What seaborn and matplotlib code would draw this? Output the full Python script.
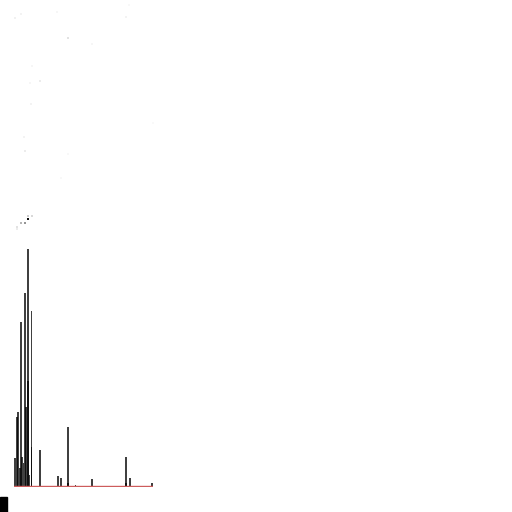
import numpy as np
import matplotlib.pyplot as plt
import seaborn as sns
from matplotlib.patches import Rectangle

# bar left edges / heights (two overlaid series)
a_left = [0, 3.3, 6, 8.7, 11, 13, 14.7, 16.7, 25, 43, 53, 60.5, 77, 111, 115, 137]
a_height = [28, 74, 164, 23, 79, 105, 11, 39, 36, 10, 59, 1, 7, 29, 8, 3]
b_left = [2, 5.3, 7.3, 10, 13, 16.7, 46, 53, 111]
b_height = [69, 18, 29, 193, 237, 175, 8, 3, 3]
bar_w = 1.7

# faint scatter points above the bars
dot_x = [1, 7, 43, 112, 115, 54, 78, 18, 16, 26, 17, 139, 10, 11, 54, 47, 14, 18, 14, 7, 11, 3, 3]
dot_y = [468, 472, 474, 469, 481, 448, 442, 420, 403, 405, 382, 363, 349, 335, 332, 308,
         270, 270, 267, 263, 263, 259, 257]
dot_shade = [0.12, 0.1, 0.08, 0.1, 0.06, 0.2, 0.08, 0.08, 0.08, 0.15, 0.1, 0.05, 0.1, 0.15, 0.06, 0.06,
             0.3, 0.25, 0.95, 0.4, 0.5, 0.2, 0.15]

sns.set_theme(style="white")
fig = plt.figure(figsize=(5.12, 5.12), dpi=100)
ax = fig.add_axes([14 / 512, 25 / 512, 139 / 512, 487 / 512])

for lefts, heights in [(a_left, a_height), (b_left, b_height)]:
    edges = []
    for l in lefts:
        edges += [l, l + bar_w]
    centers = [l + bar_w / 2 for l in lefts]
    sns.histplot(x=centers, weights=heights, bins=edges, color="black", alpha=0.75,
                 linewidth=0, ax=ax)

sns.scatterplot(x=dot_x, y=dot_y, hue=dot_shade, palette="Greys", hue_norm=(0, 1),
                s=4, marker="s", linewidth=0, legend=False, ax=ax, clip_on=False)

ax.axhline(0, color="indianred", lw=1, zorder=5)
ax.set_xlim(0, 139)
ax.set_ylim(-1, 486)
ax.axis("off")

fig.patches.append(Rectangle((0, 0), 7 / 512, 15 / 512, transform=fig.transFigure,
                             color="black"))
fig.savefig("out.png", dpi=100)
